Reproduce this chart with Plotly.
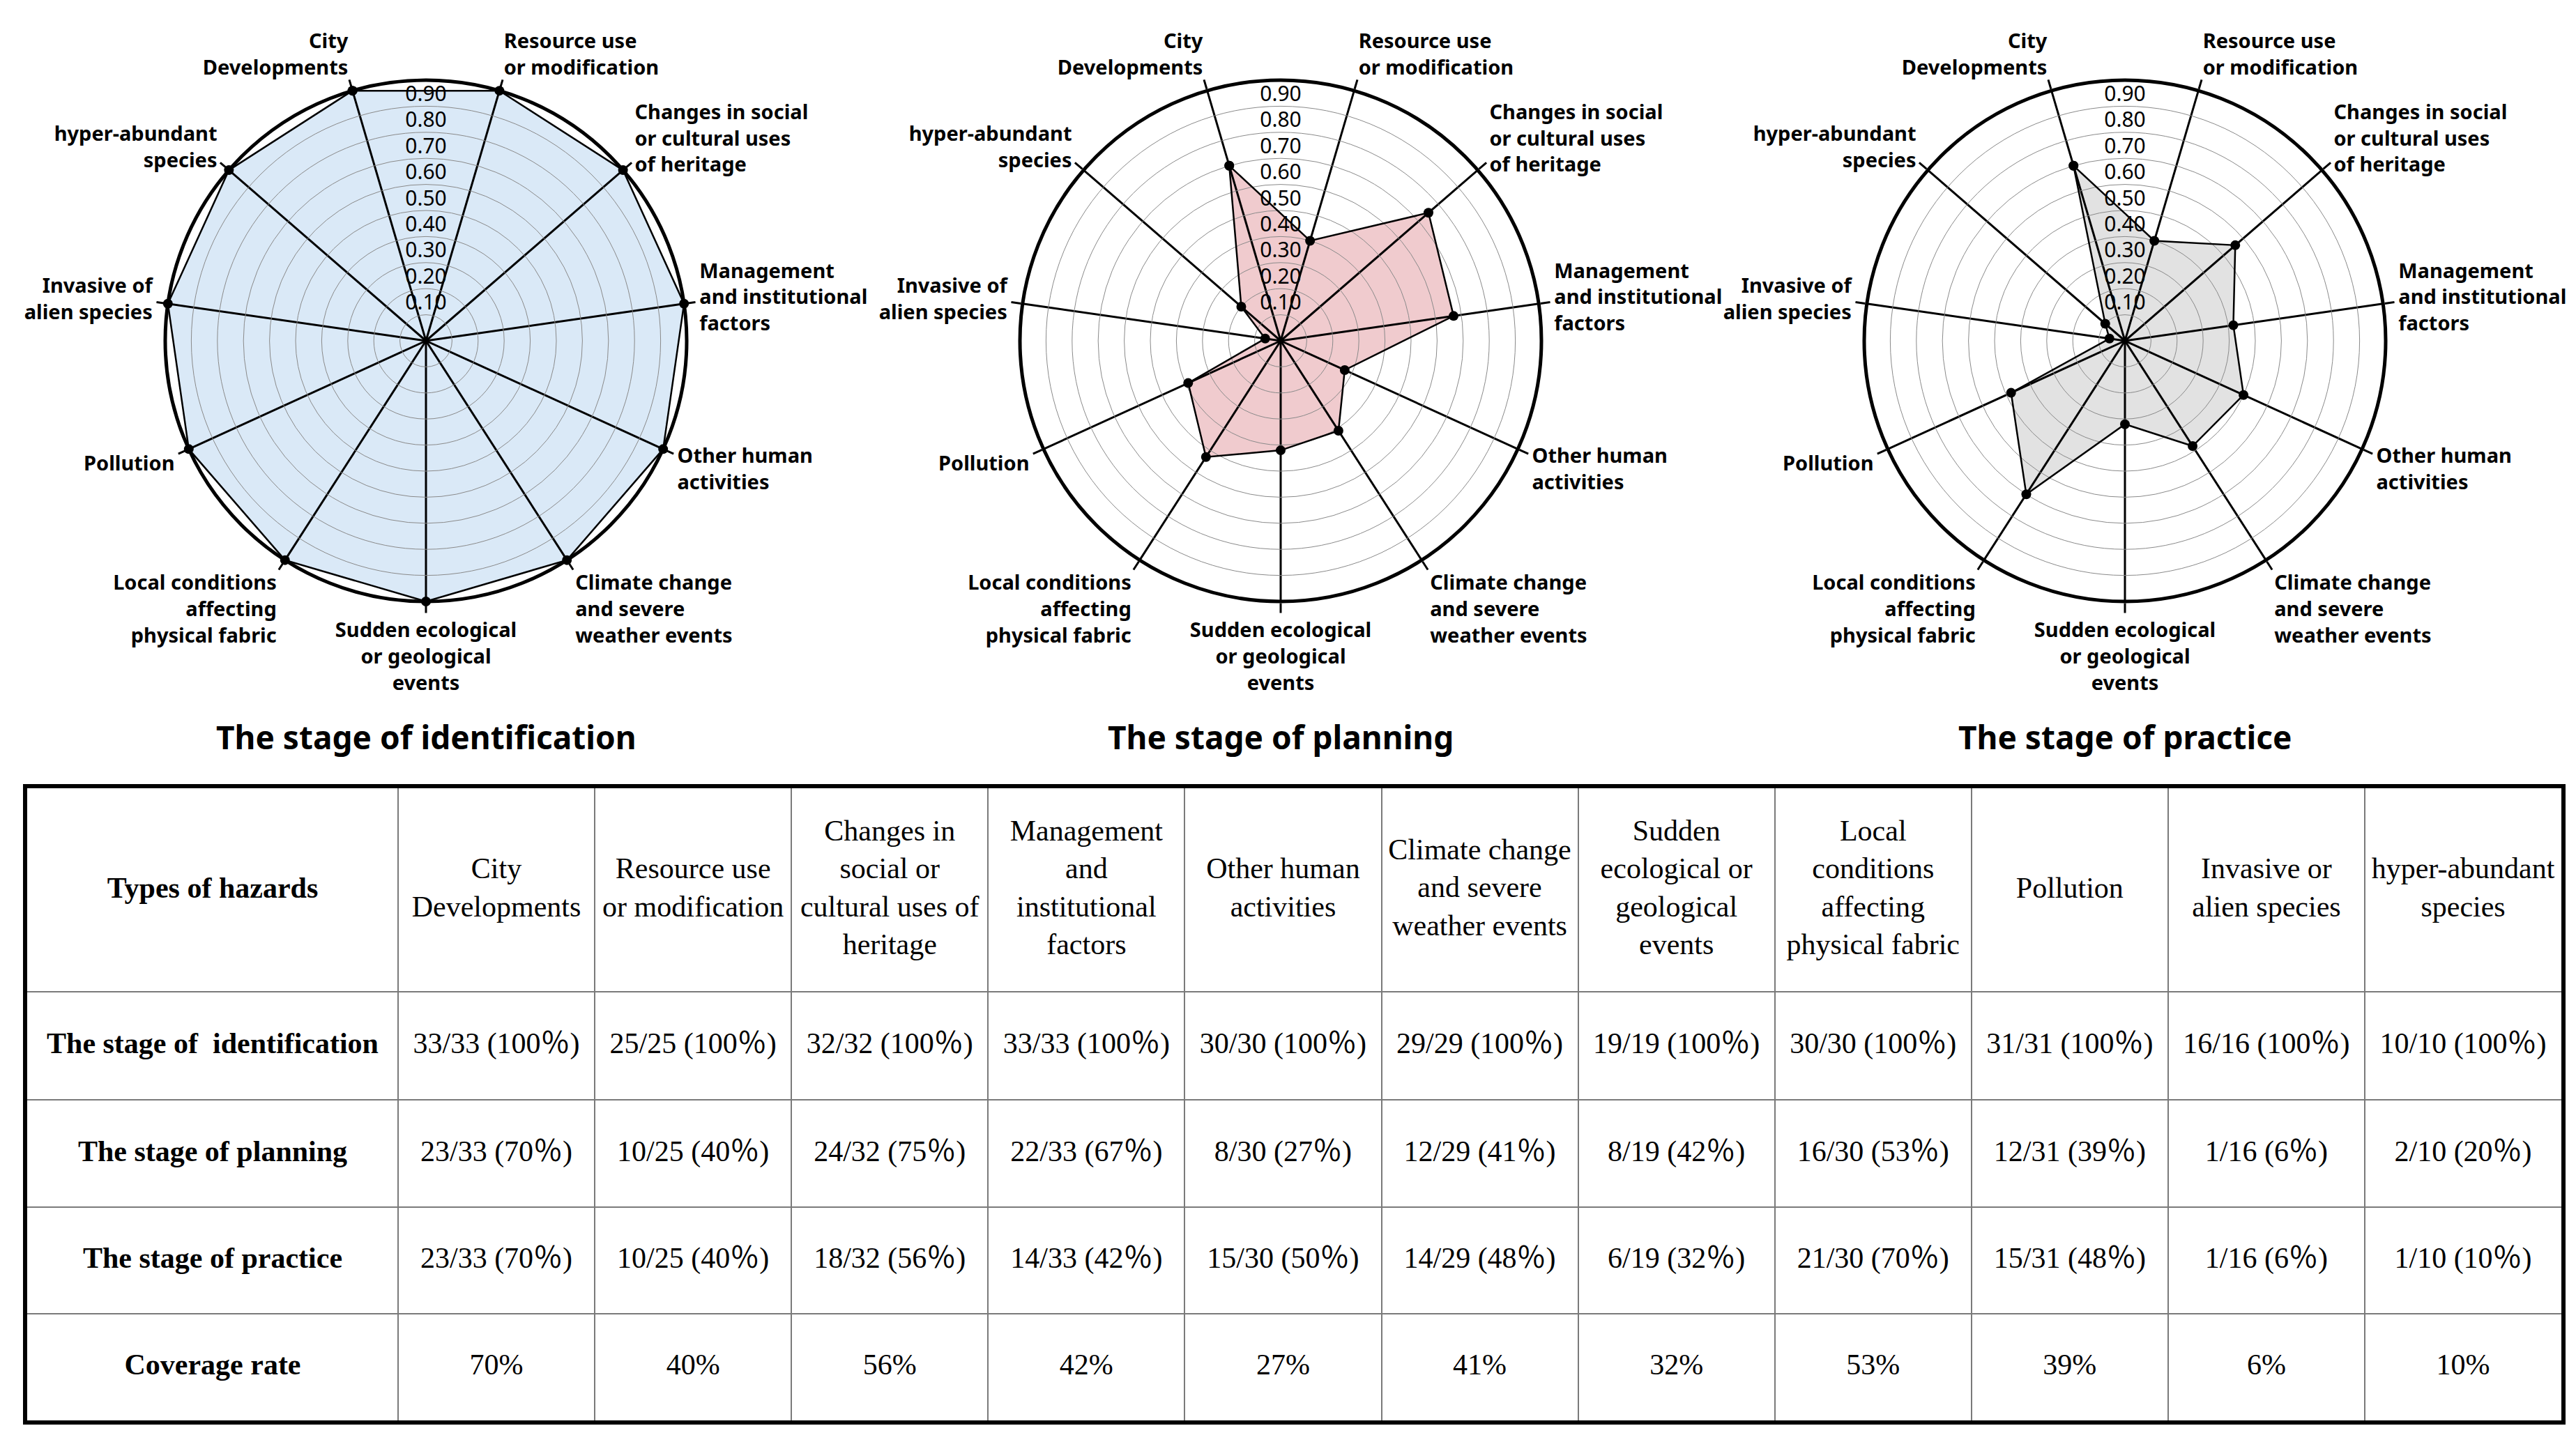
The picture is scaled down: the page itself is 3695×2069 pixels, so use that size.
import plotly.graph_objects as go

# ---------------- data ----------------
categories = [
    "City<br>Developments",
    "Resource use<br>or modification",
    "Changes in social<br>or cultural uses<br>of heritage",
    "Management<br>and institutional<br>factors",
    "Other human<br>activities",
    "Climate change<br>and severe<br>weather events",
    "Sudden ecological<br>or geological<br>events",
    "Local conditions<br>affecting<br>physical fabric",
    "Pollution",
    "Invasive of<br>alien species",
    "hyper-abundant<br>species",
]
table_headers = [
    "City<br>Developments",
    "Resource use<br>or modification",
    "Changes in<br>social or<br>cultural uses of<br>heritage",
    "Management<br>and<br>institutional<br>factors",
    "Other human<br>activities",
    "Climate change<br>and severe<br>weather events",
    "Sudden<br>ecological or<br>geological<br>events",
    "Local<br>conditions<br>affecting<br>physical fabric",
    "Pollution",
    "Invasive or<br>alien species",
    "hyper-abundant<br>species",
]
totals = [33, 25, 32, 33, 30, 29, 19, 30, 31, 16, 10]
ident_counts = [33, 25, 32, 33, 30, 29, 19, 30, 31, 16, 10]
ident_pct = [100, 100, 100, 100, 100, 100, 100, 100, 100, 100, 100]
plan_counts = [23, 10, 24, 22, 8, 12, 8, 16, 12, 1, 2]
plan_pct = [70, 40, 75, 67, 27, 41, 42, 53, 39, 6, 20]
prac_counts = [23, 10, 18, 14, 15, 14, 6, 21, 15, 1, 1]
prac_pct = [70, 40, 56, 42, 50, 48, 32, 70, 48, 6, 10]
coverage_pct = [70, 40, 56, 42, 27, 41, 32, 53, 39, 6, 10]

stage_titles = ["The stage of identification", "The stage of planning", "The stage of practice"]
row_labels = ["Types of hazards", "The stage of  identification", "The stage of planning",
              "The stage of practice", "Coverage rate"]
radial_ticks = [0.1, 0.2, 0.3, 0.4, 0.5, 0.6, 0.7, 0.8, 0.9]
radial_ticktext = ["0.10", "0.20", "0.30", "0.40", "0.50", "0.60", "0.70", "0.80", "0.90"]

# ---------------- layout constants ----------------
W, H = 3695, 2069
fills = ["#DAE9F7", "#F0CBCE", "#E2E2E2"]
centers_x = [603, 1829, 3040]
center_y = 481
R = 374
title_y = 1049

n = len(categories)
step = 360.0 / n
theta = [i * step for i in range(n)]
rotation = 90 + step / 2

fig = go.Figure()

series = [ident_pct, plan_pct, prac_pct]
label_font = dict(family="Noto Sans", size=29, color="black", weight="bold")

for k in range(3):
    r_vals = [v / 100 for v in series[k]]
    bottom = "polar" if k == 0 else f"polar{k + 1}"
    top = f"polar{k + 4}"
    # filled area (bottom layer)
    fig.add_trace(go.Scatterpolar(
        r=r_vals, theta=theta, mode="none", fill="toself",
        fillcolor=fills[k], subplot=bottom, showlegend=False, hoverinfo="skip"))
    # outline and markers (top layer)
    fig.add_trace(go.Scatterpolar(
        r=r_vals + r_vals[:1], theta=theta + theta[:1], mode="lines+markers",
        line=dict(color="black", width=2.5), marker=dict(color="black", size=14),
        subplot=top, showlegend=False, cliponaxis=False))
    # radial tick labels
    fig.add_trace(go.Scatterpolar(
        r=radial_ticks, theta=[step / 2] * len(radial_ticks), mode="text",
        text=radial_ticktext, textposition="top center",
        textfont=dict(family="Noto Sans", size=30, color="black"),
        subplot=top, showlegend=False, cliponaxis=False, hoverinfo="skip"))

    cx = centers_x[k]
    dom = dict(x=[(cx - R) / W, (cx + R) / W],
               y=[1 - (center_y + R) / H, 1 - (center_y - R) / H])
    bottom_layout = dict(
        domain=dom, bgcolor="white",
        radialaxis=dict(range=[0, 1], showgrid=False, showline=False,
                        showticklabels=False, ticks=""),
        angularaxis=dict(type="linear", thetaunit="degrees", rotation=rotation,
                         direction="clockwise", showgrid=False, showline=False,
                         showticklabels=False, ticks=""),
    )
    top_layout = dict(
        domain=dom, bgcolor="rgba(0,0,0,0)",
        radialaxis=dict(range=[0, 1], tickvals=radial_ticks, showgrid=True,
                        gridcolor="#8a8a8a", gridwidth=1.3, showline=False,
                        showticklabels=False, ticks=""),
        angularaxis=dict(type="linear", thetaunit="degrees", rotation=rotation,
                         direction="clockwise", tickmode="array", tickvals=theta,
                         ticktext=categories, tickfont=label_font,
                         showgrid=True, gridcolor="black", gridwidth=2.5,
                         showline=True, linecolor="black", linewidth=5,
                         ticks="outside", ticklen=14, tickwidth=2.5, tickcolor="black"),
    )
    fig.update_layout(**{bottom: bottom_layout, top: top_layout})
    fig.add_annotation(x=cx / W, y=1 - title_y / H, xref="paper", yref="paper",
                       xanchor="center", yanchor="middle",
                       text=f"<b>{stage_titles[k]}</b>", showarrow=False,
                       font=dict(family="Noto Sans", size=46, color="black"))

# ---------------- table ----------------
col_widths = [532] + [282.1] * n
row_heights = [292, 155, 154, 153, 153]
table_left, table_top = 31, 1123
total_w = sum(col_widths)
total_h = sum(row_heights)

col_edges = [0]
for w in col_widths:
    col_edges.append(col_edges[-1] + w)
row_edges = [0]
for h in row_heights:
    row_edges.append(row_edges[-1] + h)
col_centers = [(col_edges[i] + col_edges[i + 1]) / 2 for i in range(len(col_widths))]
row_centers = [(row_edges[i] + row_edges[i + 1]) / 2 for i in range(len(row_heights))]

rows = [
    [f"<b>{row_labels[0]}</b>"] + table_headers,
    [f"<b>{row_labels[1]}</b>"] + [f"{c}/{t} ({p}％)" for c, t, p in zip(ident_counts, totals, ident_pct)],
    [f"<b>{row_labels[2]}</b>"] + [f"{c}/{t} ({p}％)" for c, t, p in zip(plan_counts, totals, plan_pct)],
    [f"<b>{row_labels[3]}</b>"] + [f"{c}/{t} ({p}％)" for c, t, p in zip(prac_counts, totals, prac_pct)],
    [f"<b>{row_labels[4]}</b>"] + [f"{p}%" for p in coverage_pct],
]
xs, ys, texts = [], [], []
for ri, row in enumerate(rows):
    for ci, txt in enumerate(row):
        xs.append(col_centers[ci])
        ys.append(row_centers[ri])
        texts.append(txt)

fig.add_trace(go.Scatter(
    x=xs, y=ys, text=texts, mode="text", textposition="middle center",
    textfont=dict(family="Liberation Serif, Noto Sans CJK SC", size=42, color="black"),
    showlegend=False, hoverinfo="skip", cliponaxis=False))

fig.update_layout(
    xaxis=dict(domain=[table_left / W, (table_left + total_w) / W], range=[0, total_w],
               tickmode="array", tickvals=col_edges[1:-1], showgrid=True,
               gridcolor="#7a7a7a", gridwidth=2, showticklabels=False, ticks="",
               zeroline=False, showline=True, linecolor="black", linewidth=6,
               mirror=True, fixedrange=True),
    yaxis=dict(domain=[1 - (table_top + total_h) / H, 1 - table_top / H],
               range=[total_h, 0], tickmode="array", tickvals=row_edges[1:-1],
               showgrid=True, gridcolor="#7a7a7a", gridwidth=2, showticklabels=False,
               ticks="", zeroline=False, showline=True, linecolor="black", linewidth=6,
               mirror=True, fixedrange=True),
    width=W, height=H, margin=dict(l=0, r=0, t=0, b=0),
    paper_bgcolor="white", plot_bgcolor="white", showlegend=False,
)

fig.write_html("out.html")
